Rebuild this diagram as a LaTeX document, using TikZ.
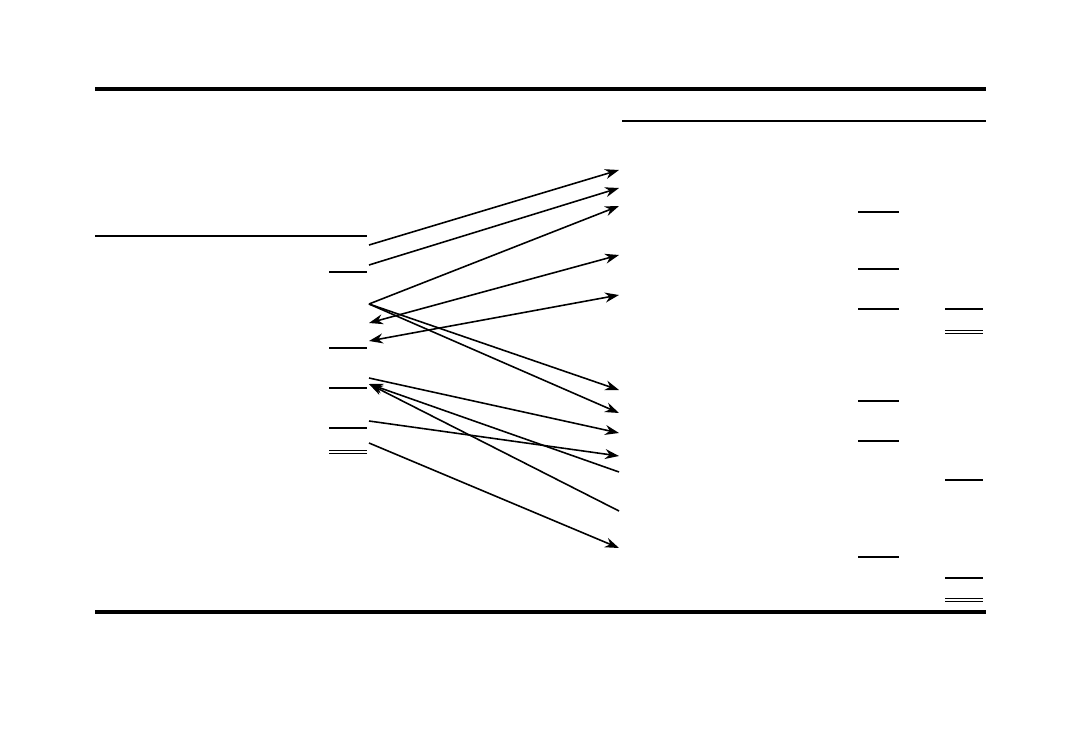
\documentclass[tikz,border=0pt]{standalone}
\usepackage{tikz}
\usetikzlibrary{arrows.meta}

\begin{document}
\begin{tikzpicture}[
  x=0.02cm, y=-0.02cm,
  toprule/.style = {draw=black, line width=2pt},
  midrule/.style = {draw=black, line width=1.3pt},
  uline/.style   = {draw=black, line width=0.8pt},
  dline/.style   = {draw=black, line width=0.55pt, double, double distance=0.9pt},
  link/.style    = {-{Stealth[length=2.8mm, width=2mm]}, draw=black, line width=0.9pt},
  both/.style    = {{Stealth[length=2.8mm, width=2mm]}-{Stealth[length=2.8mm, width=2mm]},
                    draw=black, line width=0.9pt}
]
\useasboundingbox (0,0) rectangle (1067,729);

%%%%%%%%%%%%%%%%%%%%%%% RULES %%%%%%%%%%%%%%%%%%%%%%%%%%%%%%%%%
\draw[toprule] (95,89) -- (986,89);
\draw[toprule] (95,612) -- (986,612);
\draw[midrule] (622,121) -- (986,121);
\draw[midrule] (95,236) -- (367,236);

%%%%%%%%%%%%%%%%%%%%%%% LEFT COLUMN %%%%%%%%%%%%%%%%%%%%%%%%%%%%%%%%%
\foreach \yy in {272,348,388,428}
  \draw[uline] (329,\yy) -- (367,\yy);
\draw[dline] (329,452) -- (367,452);

%%%%%%%%%%%%%%%%%%%%%%% RIGHT COLUMNS %%%%%%%%%%%%%%%%%%%%%%%%%%%%%%%%%
\foreach \yy in {212,269,309,401,441,557}
  \draw[uline] (858,\yy) -- (899,\yy);
\foreach \yy in {309,480,578}
  \draw[uline] (945,\yy) -- (983,\yy);
\draw[dline] (945,332) -- (983,332);
\draw[dline] (945,600) -- (983,600);

%%%%%%%%%%%%%%%%%%%%%%% END POINTS %%%%%%%%%%%%%%%%%%%%%%%%%%%%%%%%%
\coordinate (l1) at (369,245);
\coordinate (l2) at (369,265);
\coordinate (l3) at (369,304);
\coordinate (l4) at (369,323);
\coordinate (l5) at (369,341);
\coordinate (l6) at (369,378);
\coordinate (l7) at (369,384);
\coordinate (l8) at (369,421);
\coordinate (l9) at (369,443);

\coordinate (r1)  at (619,170);
\coordinate (r2)  at (619,188);
\coordinate (r3)  at (619,206);
\coordinate (r4)  at (619,255);
\coordinate (r5)  at (619,295);
\coordinate (r6)  at (619,390);
\coordinate (r7)  at (619,413);
\coordinate (r8)  at (619,433);
\coordinate (r9)  at (619,456);
\coordinate (r10) at (619,472);
\coordinate (r11) at (619,511);
\coordinate (r12) at (619,548);

%%%%%%%%%%%%%%%%%%%%%%% CONNECTORS %%%%%%%%%%%%%%%%%%%%%%%%%%%%%%%%%
\draw[link] (l1) -- (r1);
\draw[link] (l2) -- (r2);
\draw[link] (l3) -- (r3);
\draw[both] (l4) -- (r4);
\draw[both] (l5) -- (r5);
\draw[link] (l3) -- (r6);
\draw[link] (l3) -- (r7);
\draw[link] (l6) -- (r8);
\draw[link] (l8) -- (r9);
\draw[link] (r10) -- (l7);
\draw[link] (r11) -- (l7);
\draw[link] (l9) -- (r12);

\end{tikzpicture}
\end{document}
